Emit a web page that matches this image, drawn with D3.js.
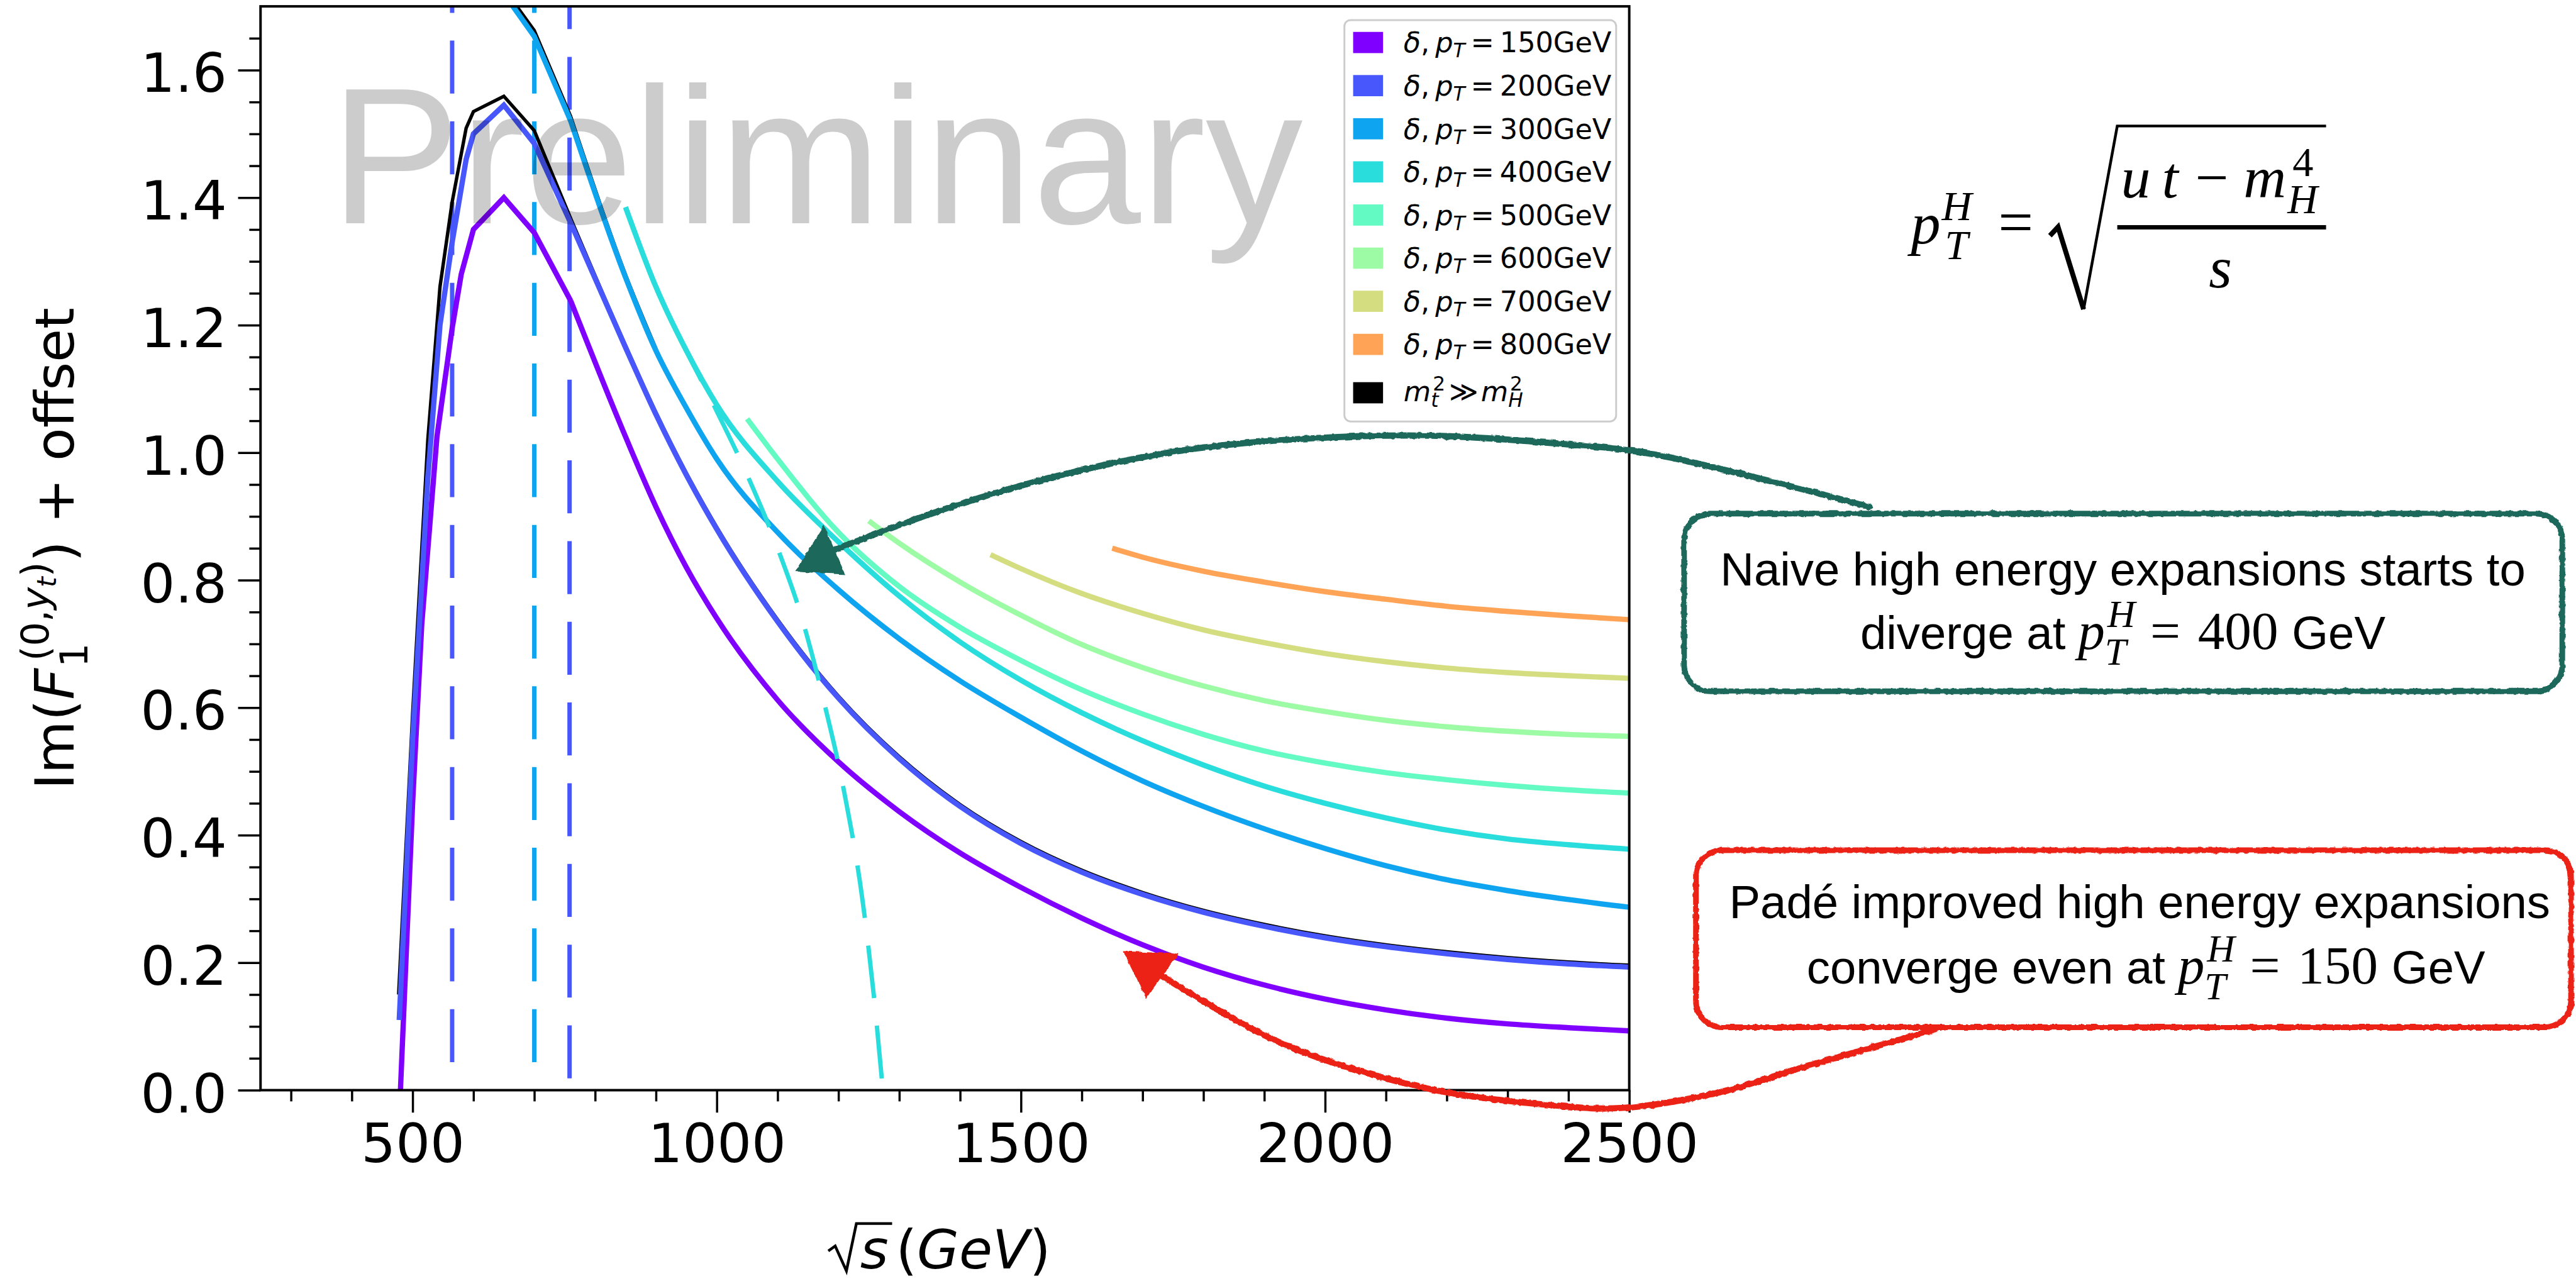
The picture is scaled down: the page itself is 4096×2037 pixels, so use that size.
<!DOCTYPE html>
<html><head><meta charset="utf-8">
<script src="https://cdn.jsdelivr.net/npm/d3@7/dist/d3.min.js"></script>
<style>html,body{margin:0;padding:0;background:#fff;overflow:hidden}svg text{white-space:pre}</style>
</head><body>
<svg id="chart" width="4096" height="2037" viewBox="0 0 4133 2055" xmlns="http://www.w3.org/2000/svg"></svg>
<script>
// ---------------- data ----------------
const pTValues = [150, 200, 300, 400, 500, 600, 700, 800];
const xTicks = [500, 1000, 1500, 2000, 2500];
const yTicks = [0, 0.2, 0.4, 0.6, 0.8, 1.0, 1.2, 1.4, 1.6];

const delta150 = [[480,0],[500,0.45],[515,0.73],[540,1.025],[565,1.195],[580,1.28],[600,1.35],[650,1.40],[700,1.345],[760,1.238],[850,1.025],[900,0.915],[950,0.82],[1000,0.74],[1100,0.612],[1200,0.515],[1300,0.437],[1400,0.372],[1500,0.318],[1600,0.27],[1700,0.228],[1800,0.193],[1900,0.165],[2000,0.143],[2100,0.126],[2200,0.113],[2300,0.104],[2400,0.098],[2500,0.093]];
const delta200 = [[478,0.11],[500,0.55],[525,0.96],[545,1.2],[565,1.33],[588,1.46],[600,1.50],[650,1.545],[700,1.485],[760,1.36],[850,1.165],[900,1.06],[950,0.965],[1000,0.88],[1100,0.735],[1200,0.615],[1300,0.52],[1400,0.445],[1500,0.387],[1600,0.342],[1700,0.307],[1800,0.279],[1900,0.257],[2000,0.239],[2100,0.225],[2200,0.214],[2300,0.205],[2400,0.198],[2500,0.193]];
const delta300 = [[650,1.72],[700,1.653],[760,1.52],[850,1.275],[900,1.16],[950,1.07],[1000,0.99],[1100,0.875],[1200,0.785],[1300,0.708],[1400,0.642],[1500,0.585],[1600,0.532],[1700,0.485],[1800,0.445],[1900,0.41],[2000,0.379],[2100,0.352],[2200,0.33],[2300,0.313],[2400,0.299],[2500,0.287]];
const delta400 = [[850,1.385],[900,1.26],[950,1.16],[1000,1.075],[1100,0.955],[1200,0.86],[1300,0.775],[1400,0.703],[1500,0.643],[1600,0.592],[1700,0.548],[1800,0.51],[1900,0.477],[2000,0.45],[2100,0.427],[2200,0.408],[2300,0.394],[2400,0.385],[2500,0.378]];
const delta500 = [[1050,1.053],[1100,0.99],[1200,0.875],[1300,0.79],[1400,0.726],[1500,0.674],[1600,0.628],[1700,0.59],[1800,0.558],[1900,0.532],[2000,0.513],[2100,0.498],[2200,0.487],[2300,0.478],[2400,0.471],[2500,0.466]];
const delta600 = [[1250,0.893],[1300,0.858],[1400,0.797],[1500,0.745],[1600,0.699],[1700,0.663],[1800,0.634],[1900,0.611],[2000,0.594],[2100,0.58],[2200,0.57],[2300,0.563],[2400,0.558],[2500,0.555]];
const delta700 = [[1450,0.84],[1500,0.818],[1600,0.779],[1700,0.748],[1800,0.722],[1900,0.702],[2000,0.685],[2100,0.672],[2200,0.662],[2300,0.655],[2400,0.65],[2500,0.646]];
const delta800 = [[1650,0.85],[1700,0.836],[1800,0.814],[1900,0.797],[2000,0.782],[2100,0.77],[2200,0.759],[2300,0.751],[2400,0.744],[2500,0.738]];
const deltaSeries = [delta150, delta200, delta300, delta400, delta500, delta600, delta700, delta800];

// m_t^2 >> m_H^2 reference (black)
const limit200 = [[477,0.15],[500,0.59],[525,1.02],[545,1.26],[565,1.393],[588,1.509],[600,1.535],[650,1.559],[700,1.505],[760,1.367],[850,1.168],[900,1.063],[950,0.968],[1000,0.883],[1100,0.738],[1200,0.618],[1300,0.523],[1400,0.448],[1500,0.39],[1600,0.345],[1700,0.31],[1800,0.282],[1900,0.26],[2000,0.242],[2100,0.228],[2200,0.217],[2300,0.208],[2400,0.201],[2500,0.196]];
const limit300 = [[650,1.728],[700,1.662],[760,1.527],[850,1.279],[900,1.163]];

// naive high energy expansion, pT = 400 (dashed)
const naive400 = [[850,1.385],[900,1.26],[950,1.16],[1000,1.065],[1050,0.965],[1100,0.85],[1140,0.74],[1176,0.61],[1210,0.465],[1240,0.295],[1258,0.15],[1273,0]];

// vertical dashed thresholds
const thresholdX = [565, 700, 758];
const thresholdSeries = [1, 2, 1];

// annotation arrows (data coordinates)
const greenArrow = [[2895,0.915],[2537,0.998],[2372,1.015],[2176,1.0265],[1980,1.0226],[1784,1.006],[1588,0.970],[1392,0.917],[1192,0.847]];
const greenHead = [[1132,0.815],[1176,0.882],[1208,0.811]];
const redArrow = [[3002,0.095],[2793,0.038],[2650,-0.003],[2486,-0.028],[2372,-0.0235],[2176,0.001],[1980,0.054],[1882,0.095],[1730,0.18]];
const redHead = [[1671,0.216],[1755,0.212],[1706,0.148]];

// ---------------- style ----------------
const colors = ['#8000ff','#4757fb','#0ea4f0','#2adddd','#63fbc3','#9cfba4','#d4dd80','#ffa457'];
const DV = 'DejaVu Sans';
const SERIF = 'Liberation Serif';
const SANS = 'Liberation Sans';

const svg = d3.select('#chart');
const defs = svg.append('defs');
const L = 418, R = 2614, T = 10, B = 1749;
const x = d3.scaleLinear().domain([250, 2500]).range([L, R]);
const y = d3.scaleLinear().domain([0, 1.7]).range([B, T]);

defs.append('clipPath').attr('id','plotclip').append('rect').attr('x',L).attr('y',T).attr('width',R-L).attr('height',B-T);
const rough = defs.append('filter').attr('id','rough').attr('filterUnits','userSpaceOnUse')
  .attr('x',0).attr('y',0).attr('width',4133).attr('height',2055);
rough.append('feTurbulence').attr('type','fractalNoise').attr('baseFrequency',0.12).attr('numOctaves',2).attr('seed',4).attr('result','noise');
rough.append('feDisplacementMap').attr('in','SourceGraphic').attr('in2','noise').attr('scale',5).attr('xChannelSelector','R').attr('yChannelSelector','G');

svg.append('rect').attr('width',4133).attr('height',2055).attr('fill','#fff');

// text-run helper: one <text>, one <tspan> per piece (math-like layout)
function run(g, parts, x0, y0, family) {
  const t = g.append('text').attr('font-family', family || DV).attr('fill', '#000');
  let cx = x0, lastStart = x0, lastEnd = x0;
  parts.forEach(p => {
    const start = p.stack ? lastStart + (p.dx || 0) : cx + (p.dx || 0);
    const ts = t.append('tspan').attr('x', start).attr('y', y0 + (p.dy || 0))
      .attr('font-size', p.s).attr('font-style', p.i ? 'italic' : 'normal').text(p.t);
    if (p.f) ts.attr('font-family', p.f);
    const w = ts.node().getComputedTextLength();
    if (p.stack) { cx = Math.max(lastEnd, start + w); }
    else { lastStart = start; lastEnd = start + w; cx = start + w; }
  });
  return cx - x0;
}
function centeredRun(parent, parts, cxp, by, family) {
  const g = parent.append('g');
  const w = run(g, parts, 0, by, family);
  g.attr('transform', `translate(${cxp - w/2},0)`);
  return g;
}

// ---------------- plot ----------------
const plot = svg.append('g').attr('clip-path','url(#plotclip)');
const linLine = d3.line().x(d => x(d[0])).y(d => y(d[1]));
const smoothLine = d3.line().x(d => x(d[0])).y(d => y(d[1])).curve(d3.curveMonotoneX);
function seriesPath(d, split = 760) {
  const a = d.filter(p => p[0] <= split), b = d.filter(p => p[0] >= split);
  if (a.length < 2) return smoothLine(d);
  if (b.length < 2) return linLine(d);
  return linLine(a) + smoothLine(b).replace(/^M[^LC]*/, 'L' + x(b[0][0]) + ',' + y(b[0][1]));
}

// dashed vertical thresholds
const dashOffsets = [84.5, 84.5, 110.5];
thresholdX.forEach((tx, i) => {
  plot.append('line').attr('x1', x(tx)).attr('x2', x(tx)).attr('y1', y(0)).attr('y2', y(1.7))
    .attr('stroke', colors[thresholdSeries[i]]).attr('stroke-width', 7)
    .attr('stroke-dasharray', '85 44.5').attr('stroke-dashoffset', dashOffsets[i]);
});

// black reference curves
[limit200, limit300].forEach(d => {
  plot.append('path').attr('d', seriesPath(d)).attr('fill','none').attr('stroke','#000')
    .attr('stroke-width', 5.5).attr('stroke-linejoin','miter');
});

// delta curves
deltaSeries.forEach((d, i) => {
  plot.append('path').attr('d', seriesPath(d)).attr('fill','none').attr('stroke', colors[i])
    .attr('stroke-width', 8.5).attr('stroke-linejoin','miter');
});

// naive 400 dashed
plot.append('path').attr('d', smoothLine(naive400)).attr('fill','none').attr('stroke', colors[3])
  .attr('stroke-width', 7).attr('stroke-dasharray','85 44.5').attr('stroke-dashoffset', 40);

// Preliminary watermark
svg.append('text').attr('x', 530).attr('y', 358).attr('font-family', SANS).attr('font-size', 312)
  .attr('fill', '#000').attr('fill-opacity', 0.2).text('Preliminary');

// ---------------- axes ----------------
const axisStyle = g => {
  g.selectAll('.domain').remove();
  g.selectAll('.tick line').attr('stroke','#000').attr('stroke-width',3.5);
  g.selectAll('.tick text').attr('font-family', DV).attr('font-size', 87).attr('fill','#000');
};
const xMinor = d3.range(300, 2500, 100).filter(v => v % 500 !== 0);
const yMinor = d3.range(0.05, 1.7, 0.05).filter(v => Math.abs(v*5 - Math.round(v*5)) > 1e-6);

svg.append('g').attr('transform', `translate(0,${B})`)
  .call(d3.axisBottom(x).tickValues(xMinor).tickSize(18).tickFormat('')).call(axisStyle);
svg.append('g').attr('transform', `translate(0,${B})`)
  .call(d3.axisBottom(x).tickValues(xTicks).tickSize(36).tickPadding(18).tickFormat(d3.format('d'))).call(axisStyle);
svg.append('g').attr('transform', `translate(${L},0)`)
  .call(d3.axisLeft(y).tickValues(yMinor).tickSize(18).tickFormat('')).call(axisStyle);
const gy = svg.append('g').attr('transform', `translate(${L},0)`)
  .call(d3.axisLeft(y).tickValues(yTicks).tickSize(36).tickPadding(18).tickFormat(d3.format('.1f'))).call(axisStyle);
gy.selectAll('.tick text').attr('dy', '0.40em');

svg.append('rect').attr('x', L).attr('y', T).attr('width', R-L).attr('height', B-T)
  .attr('fill','none').attr('stroke','#000').attr('stroke-width', 4);

// y label
const ylab = svg.append('g').attr('transform', 'translate(118,880) rotate(-90)');
{
  const g = ylab.append('g');
  const w = run(g, [
    {t:'Im(', s:87},
    {t:'F', s:87, i:true},
    {t:'1', s:61, dy:22, dx:2},
    {t:'(0,', s:61, dy:-40, stack:true, dx:10},
    {t:'y', s:61, i:true, dy:-40},
    {t:'t', s:43, i:true, dy:-28},
    {t:')', s:61, dy:-40},
    {t:') + offset', s:87}
  ], 0, 0);
  g.attr('transform', `translate(${-w/2},0)`);
}

// x label
{
  const g = svg.append('g');
  const sx = 1380, by = 2035;
  const w1 = run(g, [{t:'s', s:87, i:true}], sx, by);
  g.append('path').attr('d', `M1329,${by-28} L1340,${by-36} L1358,${by+4} L1374,${by-72} L${sx + w1 + 6},${by-72}`)
    .attr('fill','none').attr('stroke','#000').attr('stroke-width',4.5).attr('stroke-linejoin','miter');
  run(g, [{t:'(', s:87}, {t:'GeV', s:87, i:true}, {t:')', s:87}], sx + w1 + 12, by);
}

// ---------------- legend ----------------
const leg = svg.append('g');
leg.append('rect').attr('x', 2157).attr('y', 32).attr('width', 436).attr('height', 644).attr('rx', 10)
  .attr('fill', '#fff').attr('fill-opacity', 0.8).attr('stroke', '#cccccc').attr('stroke-width', 3);
const rowY = pTValues.map((v, i) => 68 + i * 69.2).concat([630]);
pTValues.forEach((v, i) => {
  leg.append('rect').attr('x', 2171).attr('y', rowY[i] - 17).attr('width', 48).attr('height', 34).attr('fill', colors[i]);
  run(leg, [
    {t:'δ', s:45, i:true},
    {t:',', s:45},
    {t:'p', s:45, i:true, dx:9},
    {t:'T', s:31.5, i:true, dy:8},
    {t:'=', s:45, dx:9},
    {t: v + 'GeV', s:45, dx:9}
  ], 2252, rowY[i] + 16);
});
leg.append('rect').attr('x', 2171).attr('y', rowY[8] - 17).attr('width', 48).attr('height', 34).attr('fill', '#000');
run(leg, [
  {t:'m', s:45, i:true},
  {t:'t', s:31.5, i:true, dy:9},
  {t:'2', s:31.5, dy:-18, stack:true, dx:3},
  {t:'≫', s:45, dx:6},
  {t:'m', s:45, i:true, dx:4},
  {t:'H', s:31.5, i:true, dy:9},
  {t:'2', s:31.5, dy:-18, stack:true, dx:3}
], 2252, rowY[8] + 14);

// ---------------- formula ----------------
{
  const g = svg.append('g');
  run(g, [
    {t:'p', s:95, i:true},
    {t:'H', s:67, i:true, dy:-37, dx:2},
    {t:'T', s:67, i:true, dy:26, stack:true, dx:5},
    {t:'=', s:100, dx:42}
  ], 3066, 390, SERIF);
  g.append('path').attr('d', 'M3289,378 L3302,364 L3343,496').attr('fill','none').attr('stroke','#000').attr('stroke-width', 8);
  g.append('path').attr('d', 'M3343,496 L3397,202 L3732,202').attr('fill','none').attr('stroke','#000').attr('stroke-width', 4.5);
  run(g, [
    {t:'u', s:95, i:true},
    {t:'t', s:95, i:true, dx:18},
    {t:'−', s:95, dx:27},
    {t:'m', s:95, i:true, dx:24},
    {t:'H', s:67, i:true, dy:25, dx:2},
    {t:'4', s:67, dy:-35, stack:true, dx:8}
  ], 3403, 317, SERIF);
  g.append('rect').attr('x', 3397).attr('y', 361).attr('width', 335).attr('height', 7).attr('fill', '#000');
  run(g, [{t:'s', s:95, i:true}], 3544, 461, SERIF);
}

// ---------------- annotations ----------------
const arrowLine = d3.line().x(d => x(d[0])).y(d => y(d[1])).curve(d3.curveCatmullRom.alpha(0.5));
const green = '#1d685a', red = '#ec2414';
const ann = svg.append('g').attr('filter', 'url(#rough)');
ann.append('path').attr('d', arrowLine(greenArrow)).attr('fill','none').attr('stroke', green).attr('stroke-width', 10).attr('stroke-linecap','round');
ann.append('path').attr('d', linLine(greenHead) + 'Z').attr('fill', green).attr('stroke', green).attr('stroke-width', 4);
ann.append('path').attr('d', arrowLine(redArrow)).attr('fill','none').attr('stroke', red).attr('stroke-width', 10).attr('stroke-linecap','round');
ann.append('path').attr('d', linLine(redHead) + 'Z').attr('fill', red).attr('stroke', red).attr('stroke-width', 4);

const boxes = svg.append('g');
boxes.append('rect').attr('x', 2702).attr('y', 824).attr('width', 1409).attr('height', 285).attr('rx', 42)
  .attr('fill', '#fff').attr('stroke', green).attr('stroke-width', 9).attr('filter', 'url(#rough)');
boxes.append('rect').attr('x', 2721).attr('y', 1364).attr('width', 1404).attr('height', 284).attr('rx', 42)
  .attr('fill', '#fff').attr('stroke', red).attr('stroke-width', 9).attr('filter', 'url(#rough)');

const pTH = () => [
  {t:'p', s:86, f:SERIF, i:true, dx:20},
  {t:'H', s:62, f:SERIF, i:true, dy:-35, dx:4},
  {t:'T', s:62, f:SERIF, i:true, dy:25, stack:true, dx:-4}
];
centeredRun(boxes, [{t:'Naive high energy expansions starts to', s:75}], 3406, 939, SANS);
centeredRun(boxes, [
  {t:'diverge at', s:75},
  ...pTH(),
  {t:'=', s:86, f:SERIF, dx:24},
  {t:'400', s:86, f:SERIF, dx:28},
  {t:'GeV', s:75, f:SANS, dx:22}
], 3406, 1041, SANS);
centeredRun(boxes, [{t:'Padé improved high energy expansions', s:75}], 3433, 1473, SANS);
centeredRun(boxes, [
  {t:'converge even at', s:75},
  ...pTH(),
  {t:'=', s:86, f:SERIF, dx:24},
  {t:'150', s:86, f:SERIF, dx:28},
  {t:'GeV', s:75, f:SANS, dx:22}
], 3443, 1578, SANS);
</script>
</body></html>
